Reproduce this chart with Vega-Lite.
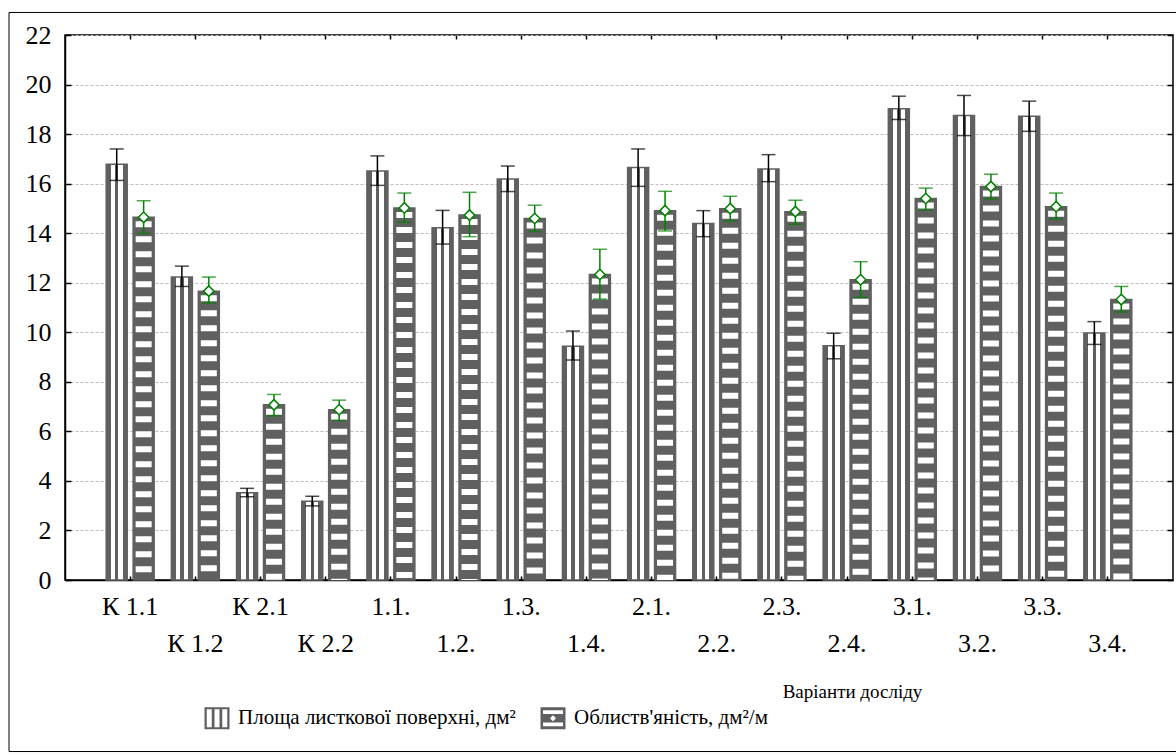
{
  "$schema": "https://vega.github.io/schema/vega-lite/v6.json",
  "width": 1108,
  "height": 545,
  "autosize": {"type": "none"},
  "padding": {"left": 65, "top": 35, "right": 3, "bottom": 175},
  "background": "white",
  "config": {
    "font": "Liberation Serif",
    "view": {"stroke": "black", "strokeWidth": 1.5},
    "axis": {"labelFont": "Liberation Serif", "titleFont": "Liberation Serif"},
    "legend": {"labelFont": "Liberation Serif"}
  },
  "data": {
    "values": [
      {"variant": "К 1.1", "series": "Площа листкової поверхні, дм²", "value": 16.78, "lo": 16.13, "hi": 17.40},
      {"variant": "К 1.1", "series": "Облиств'яність, дм²/м", "value": 14.64, "lo": 13.99, "hi": 15.31},
      {"variant": "К 1.2", "series": "Площа листкової поверхні, дм²", "value": 12.23, "lo": 11.85, "hi": 12.67},
      {"variant": "К 1.2", "series": "Облиств'яність, дм²/м", "value": 11.66, "lo": 11.18, "hi": 12.23},
      {"variant": "К 2.1", "series": "Площа листкової поверхні, дм²", "value": 3.52, "lo": 3.36, "hi": 3.70},
      {"variant": "К 2.1", "series": "Облиств'яність, дм²/м", "value": 7.07, "lo": 6.63, "hi": 7.49},
      {"variant": "К 2.2", "series": "Площа листкової поверхні, дм²", "value": 3.18, "lo": 2.99, "hi": 3.38},
      {"variant": "К 2.2", "series": "Облиств'яність, дм²/м", "value": 6.87, "lo": 6.44, "hi": 7.26},
      {"variant": "1.1.", "series": "Площа листкової поверхні, дм²", "value": 16.51, "lo": 15.93, "hi": 17.12},
      {"variant": "1.1.", "series": "Облиств'яність, дм²/м", "value": 15.02, "lo": 14.44, "hi": 15.62},
      {"variant": "1.2.", "series": "Площа листкової поверхні, дм²", "value": 14.22, "lo": 13.56, "hi": 14.92},
      {"variant": "1.2.", "series": "Облиств'яність, дм²/м", "value": 14.73, "lo": 13.86, "hi": 15.65},
      {"variant": "1.3.", "series": "Площа листкової поверхні, дм²", "value": 16.19, "lo": 15.68, "hi": 16.71},
      {"variant": "1.3.", "series": "Облиств'яність, дм²/м", "value": 14.59, "lo": 14.07, "hi": 15.13},
      {"variant": "1.4.", "series": "Площа листкової поверхні, дм²", "value": 9.44, "lo": 8.88, "hi": 10.05},
      {"variant": "1.4.", "series": "Облиств'яність, дм²/м", "value": 12.33, "lo": 11.34, "hi": 13.35},
      {"variant": "2.1.", "series": "Площа листкової поверхні, дм²", "value": 16.65, "lo": 15.89, "hi": 17.40},
      {"variant": "2.1.", "series": "Облиств'яність, дм²/м", "value": 14.91, "lo": 14.09, "hi": 15.69},
      {"variant": "2.2.", "series": "Площа листкової поверхні, дм²", "value": 14.39, "lo": 13.86, "hi": 14.91},
      {"variant": "2.2.", "series": "Облиств'яність, дм²/м", "value": 14.99, "lo": 14.49, "hi": 15.49},
      {"variant": "2.3.", "series": "Площа листкової поверхні, дм²", "value": 16.59, "lo": 16.08, "hi": 17.17},
      {"variant": "2.3.", "series": "Облиств'яність, дм²/м", "value": 14.87, "lo": 14.36, "hi": 15.33},
      {"variant": "2.4.", "series": "Площа листкової поверхні, дм²", "value": 9.46, "lo": 8.93, "hi": 9.96},
      {"variant": "2.4.", "series": "Облиств'яність, дм²/м", "value": 12.12, "lo": 11.41, "hi": 12.85},
      {"variant": "3.1.", "series": "Площа листкової поверхні, дм²", "value": 19.02, "lo": 18.59, "hi": 19.53},
      {"variant": "3.1.", "series": "Облиств'яність, дм²/м", "value": 15.40, "lo": 14.94, "hi": 15.82},
      {"variant": "3.2.", "series": "Площа листкової поверхні, дм²", "value": 18.75, "lo": 17.94, "hi": 19.56},
      {"variant": "3.2.", "series": "Облиств'яність, дм²/м", "value": 15.88, "lo": 15.38, "hi": 16.38},
      {"variant": "3.3.", "series": "Площа листкової поверхні, дм²", "value": 18.72, "lo": 18.11, "hi": 19.33},
      {"variant": "3.3.", "series": "Облиств'яність, дм²/м", "value": 15.07, "lo": 14.57, "hi": 15.62},
      {"variant": "3.4.", "series": "Площа листкової поверхні, дм²", "value": 9.97, "lo": 9.51, "hi": 10.43},
      {"variant": "3.4.", "series": "Облиств'яність, дм²/м", "value": 11.32, "lo": 10.82, "hi": 11.85}
    ]
  },
  "encoding": {
    "x": {
      "field": "variant", "type": "nominal",
      "scale": {"domain": ["К 1.1", "К 1.2", "К 2.1", "К 2.2", "1.1.", "1.2.", "1.3.", "1.4.", "2.1.", "2.2.", "2.3.", "2.4.", "3.1.", "3.2.", "3.3.", "3.4."], "paddingInner": 0, "paddingOuter": 0.5},
      "axis": null
    },
    "xOffset": {
      "field": "series", "type": "nominal",
      "scale": {"domain": ["Площа листкової поверхні, дм²", "Облиств'яність, дм²/м"], "paddingInner": 0.22, "paddingOuter": 0.32}
    }
  },
  "resolve": {"axis": {"x": "independent", "y": "independent"}, "scale": {"shape": "independent"}},
  "layer": [
    {
      "mark": {"type": "bar", "stroke": "#606060", "strokeWidth": 1.5},
      "encoding": {
        "x": {
          "field": "variant", "type": "nominal",
          "scale": {"domain": ["К 1.1", "К 1.2", "К 2.1", "К 2.2", "1.1.", "1.2.", "1.3.", "1.4.", "2.1.", "2.2.", "2.3.", "2.4.", "3.1.", "3.2.", "3.3.", "3.4."], "paddingInner": 0, "paddingOuter": 0.5},
          "axis": {
            "orient": "bottom",
            "domain": true, "domainColor": "black", "domainWidth": 1.5,
            "ticks": true, "tickSize": -4, "tickColor": "black", "tickWidth": 1.5,
            "labelAngle": 0, "labelFont": "Liberation Serif", "labelFontSize": 26, "labelColor": "black",
            "labelPadding": 17, "labelLineHeight": 37, "labelOverlap": false, "labelLimit": 0, "labelBaseline": "top",
            "labelExpr": "indexof(['К 1.2','К 2.2','1.2.','1.4.','2.2.','2.4.','3.2.','3.4.'], datum.value) >= 0 ? ['', datum.label] : datum.label",
            "title": "Варіанти досліду",
            "titleFont": "Liberation Serif", "titleFontSize": 19, "titleFontWeight": "normal", "titleColor": "black",
            "titleX": 787, "titleY": 117, "titleBaseline": "alphabetic", "titleAlign": "center"
          }
        },
        "y": {
          "field": "value", "type": "quantitative",
          "scale": {"domain": [0, 22], "nice": false, "zero": true},
          "axis": {
            "orient": "left",
            "values": [0, 2, 4, 6, 8, 10, 12, 14, 16, 18, 20, 22],
            "grid": true, "gridColor": "#bdbdbd", "gridDash": [3, 2], "gridWidth": 1,
            "domain": true, "domainColor": "black", "domainWidth": 1.5,
            "ticks": true, "tickSize": -6, "tickColor": "black", "tickWidth": 1.5,
            "labelFont": "Liberation Serif", "labelFontSize": 26, "labelColor": "black", "labelPadding": 20,
            "title": null
          }
        },
        "fill": {
          "condition": {
            "test": "datum.series === 'Площа листкової поверхні, дм²'",
            "value": {
              "gradient": "linear", "x1": 0, "y1": 0, "x2": 1, "y2": 0,
              "stops": [
                {"offset": 0, "color": "#606060"}, {"offset": 0.22, "color": "#606060"},
                {"offset": 0.22, "color": "#ffffff"}, {"offset": 0.43, "color": "#ffffff"},
                {"offset": 0.43, "color": "#606060"}, {"offset": 0.58, "color": "#606060"},
                {"offset": 0.58, "color": "#ffffff"}, {"offset": 0.79, "color": "#ffffff"},
                {"offset": 0.79, "color": "#606060"}, {"offset": 1, "color": "#606060"}
              ]
            }
          },
          "value": "#606060"
        }
      }
    },
    {
      "transform": [{"filter": "datum.series !== 'Площа листкової поверхні, дм²'"}],
      "mark": {"type": "rule", "color": "white", "strokeWidth": 16, "strokeDash": [6, 9], "strokeDashOffset": 11, "strokeCap": "butt"},
      "encoding": {
        "y": {"field": "value", "type": "quantitative", "axis": null},
        "y2": {"datum": 0}
      }
    },
    {
      "mark": {"type": "rule", "strokeWidth": 1.5},
      "encoding": {
        "x": {
          "field": "variant", "type": "nominal",
          "scale": {"domain": ["К 1.1", "К 1.2", "К 2.1", "К 2.2", "1.1.", "1.2.", "1.3.", "1.4.", "2.1.", "2.2.", "2.3.", "2.4.", "3.1.", "3.2.", "3.3.", "3.4."], "paddingInner": 0, "paddingOuter": 0.5},
          "axis": {"orient": "top", "labels": false, "domain": false, "ticks": true, "tickSize": -4, "tickColor": "black", "tickWidth": 1.5, "title": null}
        },
        "y": {
          "field": "lo", "type": "quantitative",
          "axis": {"orient": "right", "values": [0, 2, 4, 6, 8, 10, 12, 14, 16, 18, 20, 22], "labels": false, "domain": false, "grid": false, "ticks": true, "tickSize": -6, "tickColor": "black", "tickWidth": 1.5, "title": null}
        },
        "y2": {"field": "hi"},
        "color": {"condition": {"test": "datum.series === 'Площа листкової поверхні, дм²'", "value": "black"}, "value": "#008000"}
      }
    },
    {
      "mark": {"type": "tick", "thickness": 1.5, "size": 14},
      "encoding": {
        "y": {"field": "hi", "type": "quantitative", "axis": null},
        "color": {"condition": {"test": "datum.series === 'Площа листкової поверхні, дм²'", "value": "black"}, "value": "#008000"}
      }
    },
    {
      "mark": {"type": "tick", "thickness": 1.5, "size": 14},
      "encoding": {
        "y": {"field": "lo", "type": "quantitative", "axis": null},
        "color": {"condition": {"test": "datum.series === 'Площа листкової поверхні, дм²'", "value": "black"}, "value": "#008000"}
      }
    },
    {
      "transform": [{"filter": "datum.series !== 'Площа листкової поверхні, дм²'"}],
      "mark": {"type": "point", "shape": "diamond", "filled": true, "fill": "white", "stroke": "#008000", "strokeWidth": 1.5, "size": 110, "opacity": 1},
      "encoding": {
        "y": {"field": "value", "type": "quantitative", "axis": null}
      }
    },
    {
      "mark": {"type": "point", "filled": true, "fill": "#606060", "stroke": "#606060", "strokeWidth": 0.8, "size": 0},
      "encoding": {
        "y": {"field": "value", "type": "quantitative", "axis": null},
        "shape": {
          "field": "series", "type": "nominal",
          "scale": {
            "domain": ["Площа листкової поверхні, дм²", "Облиств'яність, дм²/м"],
            "range": [
              "M-1,-0.88H1V0.88H-1Z M-0.82,-0.72V0.72H-0.42V-0.72Z M-0.2,-0.72V0.72H0.2V-0.72Z M0.42,-0.72V0.72H0.82V-0.72Z",
              "M-1,-0.88H1V0.88H-1Z M-0.8,-0.64V-0.34H0.8V-0.64Z M-0.8,0.34V0.64H0.8V0.34Z M0,-0.24L-0.24,0L0,0.24L0.24,0Z"
            ]
          },
          "legend": {
            "orient": "none", "legendX": 139, "legendY": 670,
            "direction": "horizontal", "title": null, "padding": 0,
            "labelFont": "Liberation Serif", "labelFontSize": 21, "labelColor": "black", "labelOffset": 8, "labelLimit": 0,
            "columnPadding": 22,
            "symbolSize": 625, "symbolOpacity": 1,
            "symbolFillColor": "#606060", "symbolStrokeColor": "#606060", "symbolStrokeWidth": 0.8
          }
        }
      }
    },
    {
      "mark": {"type": "point", "size": 0, "opacity": 0},
      "encoding": {
        "y": {"field": "value", "type": "quantitative", "axis": null},
        "shape": {
          "field": "variant", "type": "nominal",
          "scale": {"range": ["M-1,-0.6263H1V0.6263H-1Z"]},
          "legend": {
            "values": ["К 1.1"],
            "orient": "none", "legendX": -56.5, "legendY": -243.5,
            "title": null, "padding": 0, "labelExpr": "''",
            "symbolSize": 1392400, "symbolStrokeWidth": 1, "symbolStrokeColor": "black", "symbolFillColor": "transparent",
            "encode": {
              "symbols": {
                "opacity": {"value": 1},
                "fill": {"value": "transparent"},
                "stroke": {"value": "black"},
                "strokeWidth": {"value": 1},
                "size": {"value": 1392400}
              }
            }
          }
        }
      }
    }
  ]
}
